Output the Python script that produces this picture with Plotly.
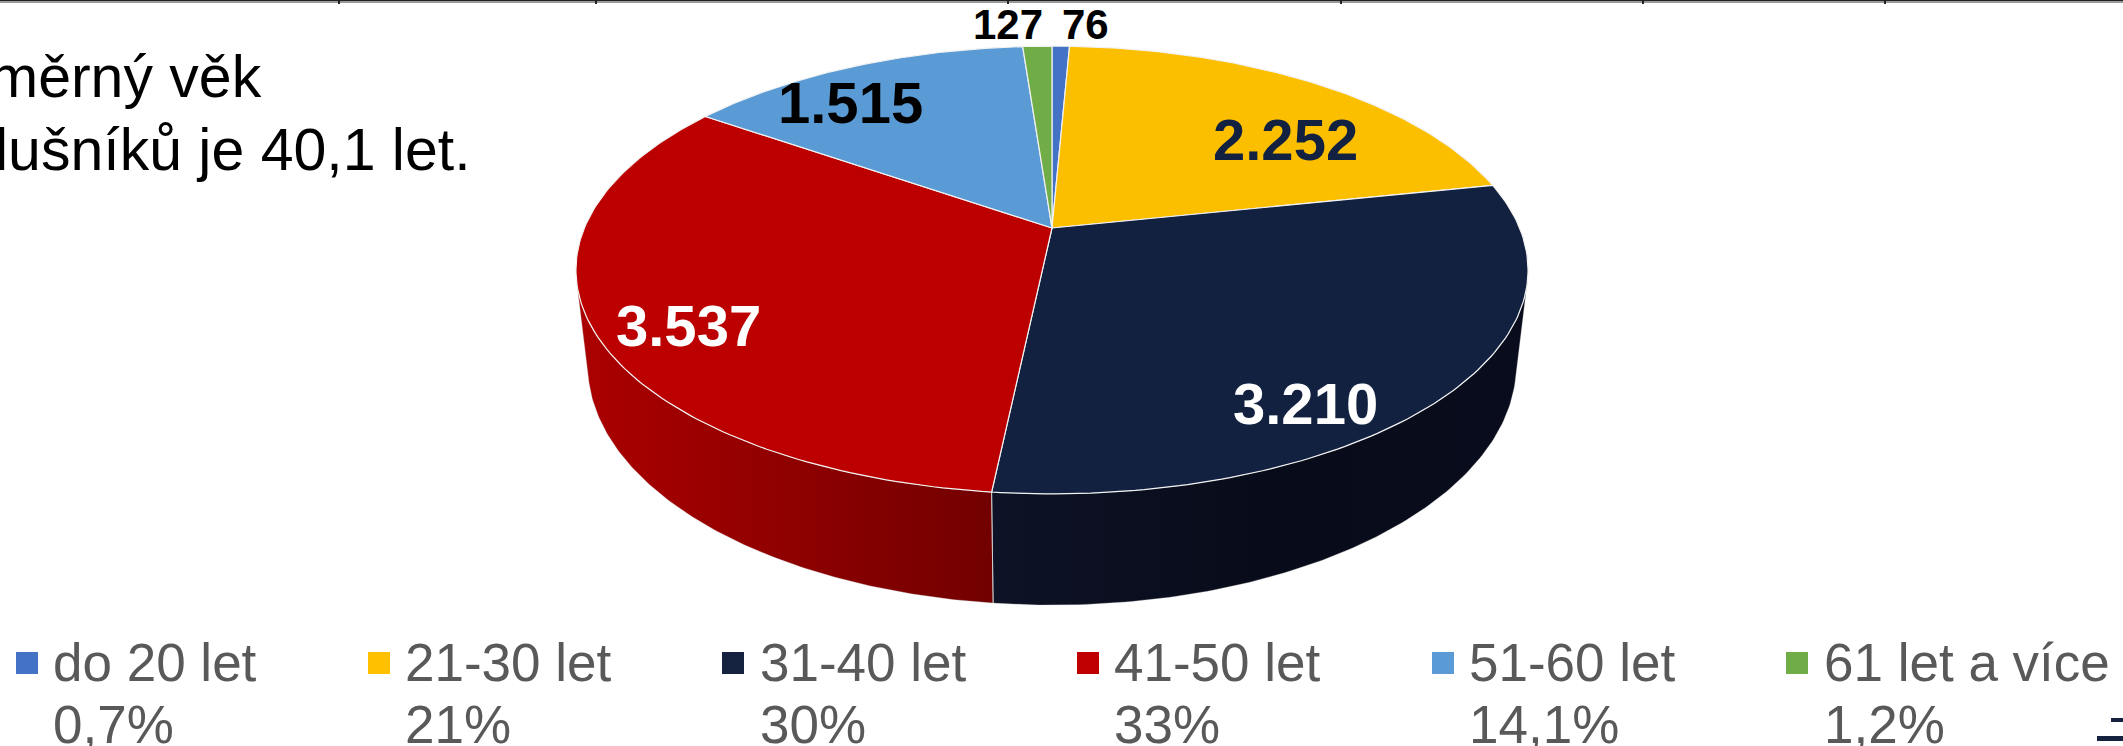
import math
import plotly.graph_objects as go

categories = ["do 20 let", "21-30 let", "31-40 let", "41-50 let", "51-60 let", "61 let a více"]
values = [76, 2252, 3210, 3537, 1515, 127]
value_labels = ["76", "2.252", "3.210", "3.537", "1.515", "127"]
shares = ["0,7%", "21%", "30%", "33%", "14,1%", "1,2%"]
colors = ["#4472C4", "#FBBF00", "#132140", "#BC0000", "#5B9BD5", "#70AD47"]
legend_colors = ["#4472C4", "#FFC000", "#14213F", "#C00000", "#5B9BD5", "#70AD47"]
label_colors = ["#000000", "#132140", "#FFFFFF", "#FFFFFF", "#000000", "#000000"]
label_xy = [(1085, 24), (1285, 139), (1305, 403), (688, 325), (850, 102), (1008, 24)]
legend_square_x = [27, 379, 733, 1088, 1443, 1797]
legend_text_x = [53, 405, 760, 1114, 1469, 1824]
side_gradients = {
    2: [[0, "#0D1226"], [0.5, "#080C1A"], [1, "#090C1C"]],
    3: [[0, "#AC0000"], [1, "#720000"]],
}

W, H = 2123, 746
CX = 1052
K = 0.1875
TOP = dict(y0=228, A=216, B=467.6)
BOT = dict(y0=320, A=231.6, B=456)
SIL_RIGHT = math.radians(105)
SIL_LEFT = math.radians(255)


def project(theta, g):
    u, v = math.sin(theta), -math.cos(theta)
    d = 1 - K * v
    return CX + g["B"] * u / d, g["y0"] + g["A"] * v / d


total = sum(values)
bounds = [0]
for val in values:
    bounds.append(bounds[-1] + val / total * 2 * math.pi)


def arc(a, b, g, n=120):
    pts = [project(a + (b - a) * i / n, g) for i in range(n + 1)]
    return [p[0] for p in pts], [p[1] for p in pts]


fig = go.Figure()

# side wall, clipped to its silhouette (only front facing slices are visible)
for i, scale in side_gradients.items():
    a, b = max(bounds[i], SIL_RIGHT), min(bounds[i + 1], SIL_LEFT)
    x1, y1 = arc(a, b, TOP)
    x2, y2 = arc(a, b, BOT)
    fig.add_trace(go.Scatter(
        x=x1 + x2[::-1] + [x1[0]], y=y1 + y2[::-1] + [y1[0]],
        mode="lines", fill="toself", line=dict(width=0.6, color="rgba(200,200,200,0.5)"),
        fillgradient=dict(type="horizontal", colorscale=scale),
        hoverinfo="skip", showlegend=False))

# seam between the two visible walls
sx1, sy1 = project(bounds[3], TOP)
sx2, sy2 = project(bounds[3], BOT)
fig.add_trace(go.Scatter(x=[sx1, sx2], y=[sy1, sy2], mode="lines",
                         line=dict(color="#D0D0D0", width=1), hoverinfo="skip", showlegend=False))

# top surface
for i, c in enumerate(colors):
    xs, ys = arc(bounds[i], bounds[i + 1], TOP)
    fig.add_trace(go.Scatter(
        x=[CX] + xs + [CX], y=[TOP["y0"]] + ys + [TOP["y0"]],
        mode="lines", fill="toself", fillcolor=c,
        line=dict(color="#F2F2F2", width=1.2), hoverinfo="skip", showlegend=False))

# legend squares
fig.add_trace(go.Scatter(
    x=legend_square_x, y=[663] * len(categories), mode="markers",
    marker=dict(symbol="square", size=22, color=legend_colors, line=dict(width=0)),
    hoverinfo="skip", showlegend=False))

FONT = "Liberation Sans, Arial, sans-serif"


def label(x, y, text, size, color, bold=False, anchor="center"):
    fig.add_annotation(x=x, y=y, text=f"<b>{text}</b>" if bold else text, showarrow=False,
                       xanchor=anchor, yanchor="middle", borderpad=0, borderwidth=0,
                       font=dict(family=FONT, size=size, color=color))


for (lx, ly), t, c, v in zip(label_xy, value_labels, label_colors, values):
    label(lx, ly, t, 58 if v > 1000 else 42, c, True)

for x, cat, s in zip(legend_text_x, categories, shares):
    label(x, 662, cat, 53, "#595959", anchor="left")
    label(x, 724, s, 53, "#595959", anchor="left")

label(262, 77, "měrný věk", 59, "#000000", anchor="right")
label(471, 150, "lušníků je 40,1 let.", 59, "#000000", anchor="right")

shapes = [
    dict(type="rect", x0=0, x1=W, y0=0, y1=3, fillcolor="#9A9A9A", line=dict(width=0)),
    dict(type="rect", x0=0, x1=W, y0=0, y1=1, fillcolor="#222222", line=dict(width=0)),
]
for tx in [339, 596, 1008, 1341, 1643, 1885]:
    shapes.append(dict(type="rect", x0=tx - 1, x1=tx + 1, y0=0, y1=4, fillcolor="#222222", line=dict(width=0)))
shapes.append(dict(type="rect", x0=2111, x1=2123, y0=718, y1=722, fillcolor="#14213F", line=dict(width=0)))
shapes.append(dict(type="rect", x0=2097, x1=2123, y0=736, y1=741, fillcolor="#14213F", line=dict(width=0)))

fig.update_layout(
    width=W, height=H, margin=dict(l=0, r=0, t=0, b=0),
    paper_bgcolor="white", plot_bgcolor="white", shapes=shapes, showlegend=False,
    xaxis=dict(range=[0, W], visible=False, fixedrange=True),
    yaxis=dict(range=[H, 0], visible=False, fixedrange=True),
)
fig.write_html("out.html", post_script="document.body.style.margin='0';document.documentElement.style.overflow='hidden';",
               config={"displayModeBar": False})
